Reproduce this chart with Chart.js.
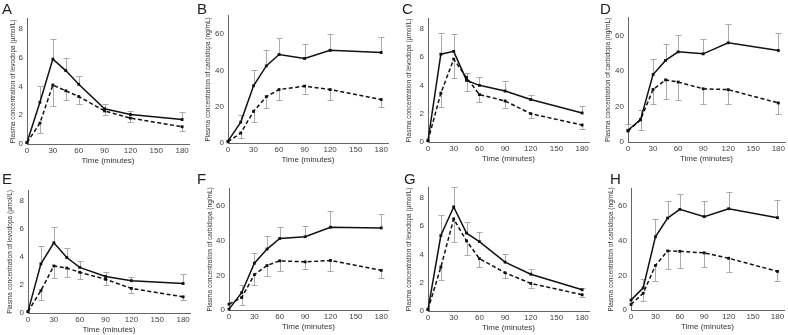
<!DOCTYPE html>
<html>
<head>
<meta charset="utf-8">
<script src="https://cdn.jsdelivr.net/npm/chart.js@4.4.0/dist/chart.umd.min.js"></script>
<style>
  body { margin: 0; background: #fff; }
  #wrap { position: relative; width: 788px; height: 335px; overflow: hidden; font-family: "Liberation Sans", Arial, sans-serif; }
  canvas { position: absolute; }
  .letra { position: absolute; font-size: 15px; line-height: 15px; color: #222; }
</style>
</head>
<body>
<div id="wrap"></div>
<script>
// tiempos de muestreo (minutos)
let tiempos = [0, 15, 30, 45, 60, 90, 120, 180];
let ticksX = [0, 30, 60, 90, 120, 150, 180];
let ticksLevodopa = [0, 2, 4, 6, 8];
let ticksCarbidopa = [0, 20, 40, 60];

let tituloLevodopa = "Plasma concentration of levodopa (µmol/L)";
let tituloCarbidopa = "Plasma concentration of carbidopa (ng/mL)";

// A - levodopa
let aSolida = [0.1, 2.9, 5.9, 5.1, 4.15, 2.45, 2.05, 1.7];
let aSolidaSd = [0, 1.1, 1.4, 0.9, 0.6, 0.3, 0.25, 0.5];
let aPunteada = [0.1, 1.45, 4.1, 3.7, 3.3, 2.3, 1.8, 1.2];
let aPunteadaSd = [0, 0.7, 1.45, 0.65, 0.55, 0.3, 0.3, 0.3];

// B - carbidopa
let bSolida = [1, 11.5, 31.5, 42.4, 48.7, 46.5, 51, 49.8];
let bSolidaSd = [0, 3.9, 8.5, 8.9, 8.9, 7.8, 9, 8.3];
let bPunteada = [0.7, 5.5, 17.4, 25.5, 29.4, 31.3, 29.4, 23.9];
let bPunteadaSd = [0, 2.5, 5.7, 6.2, 5.8, 4.6, 5.8, 4.1];

// C - levodopa
let cSolida = [0.1, 6.2, 6.4, 4.35, 4.0, 3.6, 3.0, 2.05];
let cSolidaSd = [0, 1.5, 1.2, 0.55, 0.6, 0.7, 0.35, 0.5];
let cPunteada = [0.1, 3.45, 5.85, 4.55, 3.35, 2.9, 2.0, 1.2];
let cPunteadaSd = [0, 0.95, 1.3, 0.95, 0.5, 0.5, 0.3, 0.25];

// D - carbidopa
let dSolida = [6.6, 12.6, 38, 46, 50.8, 49.7, 55.9, 51.6];
let dSolidaSd = [3.5, 5.2, 8.9, 9, 9.4, 8.5, 10.7, 9.9];
let dPunteada = [6.2, 12.5, 29.6, 35, 33.8, 30, 29.5, 22];
let dPunteadaSd = [0, 5.5, 8, 10.6, 10, 8.4, 7.9, 6];

// E - levodopa
let eSolida = [0.1, 3.5, 5.0, 3.95, 3.25, 2.6, 2.3, 2.1];
let eSolidaSd = [0, 1.25, 1.1, 0.7, 0.45, 0.3, 0.25, 0.7];
let ePunteada = [0.1, 1.6, 3.35, 3.2, 2.9, 2.4, 1.75, 1.15];
let ePunteadaSd = [0, 0.7, 0.85, 0.65, 0.5, 0.4, 0.35, 0.2];

// F - carbidopa
let fSolida = [0.5, 10, 27, 35.2, 41.3, 42.3, 47.8, 47.4];
let fSolidaSd = [0, 4.3, 6, 7.3, 6.9, 6.3, 9.2, 8.2];
let fPunteada = [3.4, 7.2, 20.4, 25.7, 28.4, 27.8, 28.6, 22.9];
let fPunteadaSd = [0, 4.3, 6.1, 6.1, 5.7, 4.4, 5.9, 4.4];

// G - levodopa
let gSolida = [0.1, 5.33, 7.35, 5.5, 4.9, 3.45, 2.6, 1.5];
let gSolidaSd = [0, 1.47, 1.4, 0.8, 0.65, 0.6, 0.4, 0.15];
let gPunteada = [0.1, 3.1, 6.5, 4.95, 3.7, 2.7, 1.95, 1.15];
let gPunteadaSd = [0, 0.9, 1.65, 1.0, 0.6, 0.4, 0.3, 0.15];

// H - carbidopa
let hSolida = [5.7, 12.8, 42.3, 53.1, 58.1, 53.9, 58.5, 53.3];
let hSolidaSd = [0, 5.3, 10.1, 9.8, 9.1, 9, 9.9, 10.1];
let hPunteada = [3.2, 9.7, 25.7, 34.1, 33.9, 33, 29.9, 22.3];
let hPunteadaSd = [0, 4.6, 8.7, 10.3, 9.7, 8.2, 8, 5.7];

// posicion de cada panel: x0 = eje y, xFin = fin eje x, yTop = tope eje y, y0 = eje x
let paneles = [
  { letra: "A", lx: 2, ly: 1, x0: 27, xFin: 190, yTop: 18, y0: 144, gapTit: 14, tipo: "L", s: aSolida, ss: aSolidaSd, p: aPunteada, ps: aPunteadaSd },
  { letra: "B", lx: 197, ly: 1, x0: 228, xFin: 389, yTop: 15, y0: 143, gapTit: 20, tipo: "C", s: bSolida, ss: bSolidaSd, p: bPunteada, ps: bPunteadaSd },
  { letra: "C", lx: 402, ly: 1, x0: 428, xFin: 590, yTop: 18, y0: 142, gapTit: 19, tipo: "L", s: cSolida, ss: cSolidaSd, p: cPunteada, ps: cPunteadaSd },
  { letra: "D", lx: 600, ly: 1, x0: 628, xFin: 786, yTop: 17, y0: 142, gapTit: 20, tipo: "C", s: dSolida, ss: dSolidaSd, p: dPunteada, ps: dPunteadaSd },
  { letra: "E", lx: 2, ly: 171, x0: 28, xFin: 191, yTop: 190, y0: 313, gapTit: 18, tipo: "L", s: eSolida, ss: eSolidaSd, p: ePunteada, ps: ePunteadaSd },
  { letra: "F", lx: 197, ly: 171, x0: 229, xFin: 389, yTop: 188, y0: 310, gapTit: 19, tipo: "C", s: fSolida, ss: fSolidaSd, p: fPunteada, ps: fPunteadaSd },
  { letra: "G", lx: 404, ly: 171, x0: 428, xFin: 590, yTop: 187, y0: 311, gapTit: 19, tipo: "L", s: gSolida, ss: gSolidaSd, p: gPunteada, ps: gPunteadaSd },
  { letra: "H", lx: 610, ly: 171, x0: 631, xFin: 785, yTop: 188, y0: 310, gapTit: 20, tipo: "C", s: hSolida, ss: hSolidaSd, p: hPunteada, ps: hPunteadaSd }
];

Chart.defaults.font.family = '"Liberation Sans", Arial, sans-serif';
Chart.defaults.color = "#444";

const ANCHO_Y = 27;
const ALTO_X = 26;
const PAD_TOP = 8;
const PAD_DER = 3;

// barras de error: serie solida hacia arriba, punteada hacia abajo
const barrasError = {
  id: "barrasError",
  beforeDatasetsDraw(chart, args, opts) {
    const c = chart.ctx;
    const xs = chart.scales.x, ys = chart.scales.y;
    c.save();
    c.strokeStyle = "#aaa";
    c.lineWidth = 1;
    chart.data.datasets.forEach((ds, k) => {
      const dir = k === 0 ? 1 : -1;
      ds.data.forEach((pt, i) => {
        const sd = ds.sd[i];
        if (!sd) return;
        const px = Math.round(xs.getPixelForValue(pt.x)) + 0.5;
        const pa = ys.getPixelForValue(pt.y);
        const pb = Math.round(ys.getPixelForValue(pt.y + dir * sd)) + 0.5;
        c.beginPath();
        c.moveTo(px, pa);
        c.lineTo(px, pb);
        c.moveTo(px - 3, pb);
        c.lineTo(px + 3, pb);
        c.stroke();
      });
    });
    c.restore();
  }
};

let wrap = document.getElementById("wrap");

paneles.forEach(function (pn) {
  let w = pn.xFin - pn.x0 + ANCHO_Y + PAD_DER;
  let h = pn.y0 - pn.yTop + PAD_TOP + ALTO_X;
  let cv = document.createElement("canvas");
  cv.width = w;
  cv.height = h;
  cv.style.left = (pn.x0 - ANCHO_Y) + "px";
  cv.style.top = (pn.yTop - PAD_TOP) + "px";
  cv.style.width = w + "px";
  cv.style.height = h + "px";
  wrap.appendChild(cv);

  let letra = document.createElement("div");
  letra.className = "letra";
  letra.textContent = pn.letra;
  letra.style.left = pn.lx + "px";
  letra.style.top = pn.ly + "px";
  wrap.appendChild(letra);

  let esLevo = pn.tipo === "L";
  let ticksY = esLevo ? ticksLevodopa : ticksCarbidopa;

  new Chart(cv.getContext("2d"), {
    type: "line",
    data: {
      datasets: [
        {
          data: tiempos.map((t, i) => ({ x: t, y: pn.s[i] })),
          sd: pn.ss,
          borderColor: "#111",
          backgroundColor: "#111",
          borderWidth: 1.5,
          pointStyle: "rect",
          pointRadius: 2,
          pointBorderWidth: 0,
          clip: false
        },
        {
          data: tiempos.map((t, i) => ({ x: t, y: pn.p[i] })),
          sd: pn.ps,
          borderColor: "#111",
          backgroundColor: "#111",
          borderWidth: 1.5,
          borderDash: [4, 2.5],
          pointStyle: "rect",
          pointRadius: 2,
          pointBorderWidth: 0,
          clip: false
        }
      ]
    },
    options: {
      responsive: false,
      animation: false,
      layout: { padding: { top: PAD_TOP, right: PAD_DER, left: 0, bottom: 0 } },
      plugins: { legend: { display: false }, tooltip: { enabled: false } },
      scales: {
        x: {
          type: "linear",
          min: 0,
          max: 188,
          afterFit: function (sc) { sc.height = ALTO_X; },
          afterBuildTicks: function (sc) { sc.ticks = ticksX.map(v => ({ value: v })); },
          grid: { drawOnChartArea: false, drawTicks: false },
          border: { color: "#666", width: 1 },
          ticks: { font: { size: 8 }, padding: 2, maxRotation: 0, autoSkip: false },
          title: { display: true, text: "Time (minutes)", font: { size: 8 }, color: "#333", padding: { top: 0, bottom: 4 } }
        },
        y: {
          min: 0,
          max: esLevo ? 8.7 : 70,
          afterFit: function (sc) { sc.width = ANCHO_Y; },
          afterBuildTicks: function (sc) { sc.ticks = ticksY.map(v => ({ value: v })); },
          grid: { drawOnChartArea: false, drawTicks: false },
          border: { color: "#666", width: 1 },
          ticks: { font: { size: 8 }, padding: 4 },
          title: {
            display: true,
            text: esLevo ? tituloLevodopa : tituloCarbidopa,
            font: { size: 6.5 },
            color: "#333",
            padding: { top: 23.1 - pn.gapTit, bottom: 0 }
          }
        }
      }
    },
    plugins: [barrasError]
  });
});
</script>
</body>
</html>
